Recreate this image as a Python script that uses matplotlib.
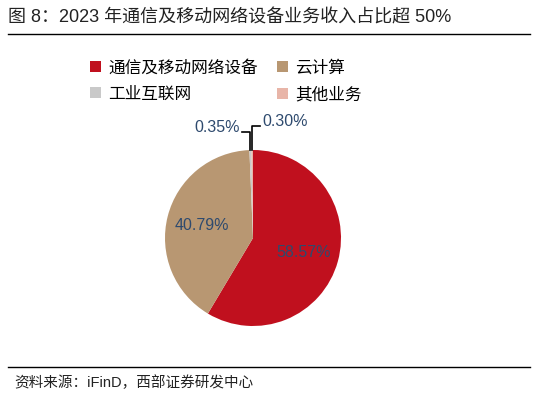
import numpy as np
import matplotlib
matplotlib.use('Agg')
import matplotlib.pyplot as plt
from matplotlib.patches import Patch

plt.rcParams['font.family'] = ['Liberation Sans', 'Noto Sans CJK SC', 'DejaVu Sans']

# data
categories = ['通信及移动网络设备', '云计算', '工业互联网', '其他业务']
shares = [58.57, 40.79, 0.35, 0.30]
colors = ['#C0101E', '#B89772', '#C9C9C9', '#E8B5A8']
label_color = '#2E4A6E'

title = '图 8：2023 年通信及移动网络设备业务收入占比超 50%'
source = '资料来源：iFinD，西部证券研发中心'

fig = plt.figure(figsize=(5.4, 3.96), dpi=100)

# title and rules
fig.text(8 / 540, 1 - 18 / 396, title, fontsize=13, va='center', ha='left', color='#222222')
fig.add_artist(plt.Line2D([8 / 540, 530 / 540], [1 - 34 / 396] * 2, color='black', lw=1))
fig.add_artist(plt.Line2D([8 / 540, 530 / 540], [1 - 367 / 396] * 2, color='black', lw=1))
fig.text(14 / 540, 1 - 383 / 396, source, fontsize=10.5, va='center', ha='left', color='#222222')

# pie
ax = fig.add_axes([165 / 540, 70 / 396, 176 / 540, 176 / 396])
wedges, _ = ax.pie(shares, colors=colors, startangle=90, counterclock=False,
                   radius=1, wedgeprops=dict(linewidth=0))
ax.set_xlim(-1, 1)
ax.set_ylim(-1, 1)
ax.set_aspect('equal')
ax.axis('off')

# big labels inside
for w, v in zip(wedges[:2], shares[:2]):
    ang = np.deg2rad((w.theta1 + w.theta2) / 2)
    ax.text(0.6 * np.cos(ang), 0.6 * np.sin(ang), f'{v:.2f}%', ha='center', va='center',
            fontsize=11.5, color=label_color)

# small labels with elbow leader lines
elbows = [(1.20, -0.13, 'right'), (1.27, 0.08, 'left')]
for w, v, (ey, ex, ha) in zip(wedges[2:], shares[2:], elbows):
    ang = np.deg2rad((w.theta1 + w.theta2) / 2)
    x0 = np.cos(ang)
    ax.plot([x0, x0, ex], [np.sin(ang), ey, ey], color='black', lw=1.2, clip_on=False)
    tx = ex - 0.02 if ha == 'right' else ex + 0.03
    ax.text(tx, ey + 0.05, f'{v:.2f}%', ha=ha, va='center', fontsize=11.5,
            color=label_color, clip_on=False)

# legend, filled row by row
handles = [Patch(facecolor=c, edgecolor='none') for c in colors]
order = [0, 2, 1, 3]
fig.legend([handles[i] for i in order], [categories[i] for i in order],
           loc='upper left', bbox_to_anchor=(90 / 540, 1 - 60 / 396),
           ncol=2, frameon=False, fontsize=12, handlelength=0.65, handleheight=0.65,
           handletextpad=0.45, columnspacing=1.15, labelspacing=0.65, borderaxespad=0,
           borderpad=0)

fig.savefig('out.png', dpi=100)
